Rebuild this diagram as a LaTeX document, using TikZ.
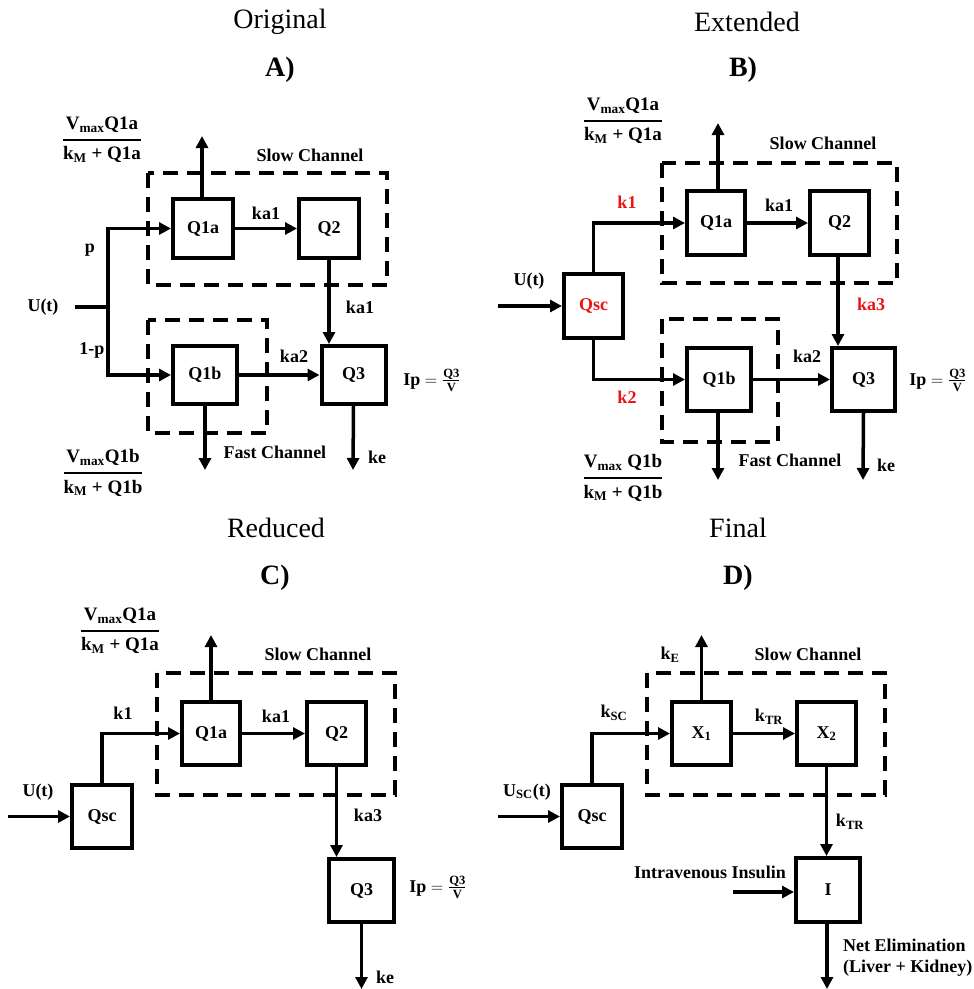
\documentclass[tikz,border=0pt]{standalone}
\usepackage{amsmath}
\usepackage{fontspec}
\setmainfont{Liberation Serif}
\usetikzlibrary{arrows.meta}
\definecolor{kred}{RGB}{235,20,20}
\newcommand\lbl{\fontsize{18}{21}\selectfont\bfseries}
\newcommand\vfrac[2]{$\genfrac{}{}{2pt}{0}{\text{\bfseries V}_{\text{\bfseries max}}\text{\bfseries #1#2}}{\text{\bfseries k}_{\text{\bfseries M}}\text{\bfseries\ +\ #2}}$}
\newcommand\ipeq{\textbf{Ip} $=\genfrac{}{}{1.2pt}{1}{\text{\bfseries Q3}}{\text{\bfseries V}}$}
\newcommand\sbs[2]{#1$_{\text{\bfseries #2}}$}
\tikzset{
 blk/.style={draw, line width=4pt, font=\lbl, inner sep=0pt},
 ln/.style={line width=3.5pt},
 arr/.style={line width=3.5pt, -{Triangle[length=12pt,width=12pt]}},
 chan/.style={draw, line width=3.5pt, dash pattern=on 15pt off 9pt},
 lab/.style={font=\lbl, inner sep=0pt},
 rlab/.style={lab, text=kred},
 ttl/.style={font=\fontsize{28}{32}\selectfont, inner sep=0pt},
 pnl/.style={font=\fontsize{28}{32}\selectfont\bfseries, inner sep=0pt},
 frc/.style={font=\fontsize{19}{22}\selectfont, inner sep=0pt},
}
\begin{document}
\begin{tikzpicture}[x=1pt,y=-1pt]
\useasboundingbox (0,0) rectangle (974,989);
% ================= Panel A =================
\node[ttl] (tA) at (280,22) {Original};
\node[pnl] (pA) at (280,70) {A)};
\draw[chan] (148,173) rectangle (387,285);
\draw[chan] (148,320) rectangle (267,433);
\node[blk, minimum width=60pt, minimum height=59pt] (a1) at (203,228.5) {Q1a};
\node[blk, minimum width=60pt, minimum height=59pt] (a2) at (329,228.5) {Q2};
\node[blk, minimum width=64pt, minimum height=58pt] (a1b) at (205,375) {Q1b};
\node[blk, minimum width=64pt, minimum height=58pt] (a3) at (353.5,375) {Q3};
\node[frc] (fA1) at (102,140) {\vfrac{}{Q1a}};
\node[lab] (scA) at (310,155) {Slow Channel};
\node[lab] (fcA) at (275,452) {Fast Channel};
\node[lab] (ka1A) at (266,213) {ka1};
\node[lab] (ka1vA) at (360,307) {ka1};
\node[lab] (ka2A) at (294,356) {ka2};
\node[lab] (pA) at (90,250) {p};
\node[lab] (qpA) at (92,350) {1-p};
\node[lab] (utA) at (43,307) {U(t)};
\node[lab] (ipA) at (432,380) {\ipeq};
\node[lab] (keA) at (377,457) {ke};
\node[frc] (fA2) at (103,473) {\vfrac{}{Q1b}};
\coordinate (uA) at (75,307);
\coordinate (jA) at (108,307);
\coordinate (upA) at (202,136);
\coordinate (dnA1) at (205,470);
\coordinate (dnA3) at (353,470);
\draw[ln] (uA) -- (jA);
\draw[arr] (jA) |- (a1);
\draw[arr] (jA) |- (a1b);
\draw[arr] (a1) -- (a2);
\draw[arr] (a1b) -- (a3);
\draw[arr] (a2.south) -- (a2.south |- a3.north);
\draw[arr] (a1.north -| upA) -- (upA);
\draw[arr] (a1b.south) -- (dnA1);
\draw[arr] (a3.south) -- (dnA3);
% ================= Panel B =================
\node[ttl] (tB) at (747,22) {Extended};
\node[pnl] (pB) at (743,70) {B)};
\draw[chan] (662,163) rectangle (897,283);
\draw[chan] (662,319) rectangle (778,442);
\node[blk, minimum width=58pt, minimum height=64pt] (b1) at (716,223) {Q1a};
\node[blk, minimum width=59pt, minimum height=64pt] (b2) at (839.5,223) {Q2};
\node[blk, minimum width=59pt, minimum height=64pt, text=kred] (bsc) at (593.5,306) {Qsc};
\node[blk, minimum width=64pt, minimum height=63pt] (b1b) at (719,379.5) {Q1b};
\node[blk, minimum width=63pt, minimum height=63pt] (b3) at (863.5,379.5) {Q3};
\node[frc] (fB1) at (623,121) {\vfrac{}{Q1a}};
\node[lab] (scB) at (823,143) {Slow Channel};
\node[lab] (fcB) at (790,460) {Fast Channel};
\node[lab] (ka1B) at (779,205) {ka1};
\node[rlab] (k1B) at (627,202) {k1};
\node[rlab] (k2B) at (627,397) {k2};
\node[rlab] (ka3B) at (871,304) {ka3};
\node[lab] (ka2B) at (807,356) {ka2};
\node[lab] (utB) at (529,281) {U(t)};
\node[lab] (ipB) at (938,380) {\ipeq};
\node[lab] (keB) at (886,465) {ke};
\node[frc] (fB2) at (623,478) {\vfrac{\ }{Q1b}};
\coordinate (uB) at (498,306);
\coordinate (upB) at (718,123);
\coordinate (dnB1) at (718,480);
\coordinate (dnB3) at (863,480);
\draw[arr] (uB) -- (bsc);
\draw[arr] (bsc.north) |- (b1);
\draw[arr] (bsc.south) |- (b1b);
\draw[arr] (b1) -- (b2);
\draw[arr] (b1b) -- (b1b -| b3.west);
\draw[arr] ([xshift=-1.5pt]b2.south) -- ([xshift=-1.5pt]b2.south |- b3.north);
\draw[arr] (b1.north -| upB) -- (upB);
\draw[arr] (b1b.south -| dnB1) -- (dnB1);
\draw[arr] (b3.south) -- (dnB3);
% ================= Panel C =================
\node[ttl] (tC) at (276,528) {Reduced};
\node[pnl] (pC) at (275,578) {C)};
\draw[chan] (157,673) rectangle (395,795);
\node[blk, minimum width=58pt, minimum height=63pt] (c1) at (211,733.5) {Q1a};
\node[blk, minimum width=59pt, minimum height=63pt] (c2) at (336.5,733.5) {Q2};
\node[blk, minimum width=60pt, minimum height=63pt] (csc) at (102,816.5) {Qsc};
\node[blk, minimum width=65pt, minimum height=63pt] (c3) at (361.5,890.5) {Q3};
\node[frc] (fC) at (120,631) {\vfrac{}{Q1a}};
\node[lab] (scC) at (318,654) {Slow Channel};
\node[lab] (ka1C) at (276,716) {ka1};
\node[lab] (k1C) at (123,713) {k1};
\node[lab] (ka3C) at (368,815) {ka3};
\node[lab] (utC) at (38,792) {U(t)};
\node[lab] (ipC) at (438,887) {\ipeq};
\node[lab] (keC) at (385,977) {ke};
\coordinate (uC) at (8,816.5);
\coordinate (upC) at (211,635);
\coordinate (dnC) at (361.5,989);
\draw[arr] (uC) -- (csc);
\draw[arr] (csc.north) |- (c1);
\draw[arr] (c1) -- (c2);
\draw[arr] (c2.south) -- (c2.south |- c3.north);
\draw[arr] (c1.north) -- (upC);
\draw[arr] (c3.south) -- (dnC);
% ================= Panel D =================
\node[ttl] (tD) at (738,528) {Final};
\node[pnl] (pD) at (738,578) {D)};
\draw[chan] (647,673) rectangle (885,795);
\node[blk, minimum width=59pt, minimum height=63pt] (d1) at (701.5,733.5) {\sbs{X}{1}};
\node[blk, minimum width=59pt, minimum height=63pt] (d2) at (826.5,733.5) {\sbs{X}{2}};
\node[blk, minimum width=60pt, minimum height=63pt] (dsc) at (592,816.5) {Qsc};
\node[blk, minimum width=64pt, minimum height=64pt] (di) at (828,890) {I};
\node[lab] (kED) at (670,655) {\sbs{k}{E}};
\node[lab] (scD) at (808,654) {Slow Channel};
\node[lab] (ktrD) at (769,717) {\sbs{k}{TR}};
\node[lab] (kscD) at (614,713) {\sbs{k}{SC}};
\node[lab] (ktr2D) at (850,822) {\sbs{k}{TR}};
\node[lab] (utD) at (527,792) {\sbs{U}{SC}(t)};
\node[lab] (ivD) at (710,872) {Intravenous Insulin};
\node[lab, align=left, anchor=west] (neD) at (843,958) {Net Elimination\\(Liver + Kidney)};
\coordinate (uD) at (498,816.5);
\coordinate (upD) at (701.5,635);
\coordinate (ivs) at (733,892);
\coordinate (dnD) at (827,989);
\draw[arr] (uD) -- (dsc);
\draw[arr] (dsc.north) |- (d1);
\draw[arr] (d1) -- (d2);
\draw[arr] (d2.south) -- (d2.south |- di.north);
\draw[arr] (d1.north) -- (upD);
\draw[arr] (ivs) -- (ivs -| di.west);
\draw[arr] (di.south -| dnD) -- (dnD);
\end{tikzpicture}
\end{document}
